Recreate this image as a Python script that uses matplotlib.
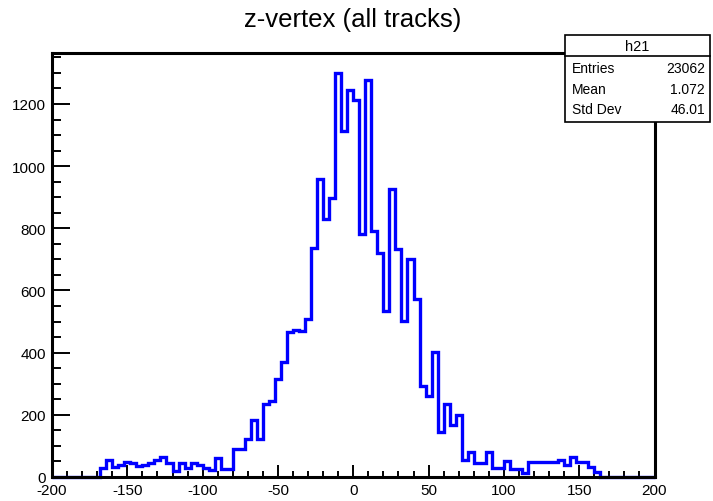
import matplotlib
matplotlib.use('Agg')
import matplotlib.pyplot as plt
import numpy as np
from matplotlib.patches import Rectangle
from matplotlib.lines import Line2D

plt.rcParams['font.family'] = ['Liberation Sans', 'DejaVu Sans']
plt.rcParams['axes.unicode_minus'] = False

# h21: z-vertex of all tracks, 100 bins from -200 to 200
z_lo, z_hi, n_bins = -200, 200, 100
counts = [
    0, 0, 0, 0, 0, 0, 0, 0,                      # -200 .. -172
    30, 55, 33, 38, 48, 45, 35, 38, 45, 55,      # -168 .. -132
    63, 46, 18, 46, 30, 44, 37, 30, 22, 62,      # -128 .. -92
    27, 27, 91, 91, 123, 182, 123, 235, 243, 315,  # -88 .. -52
    369, 465, 473, 470, 508, 738, 959, 829, 898, 1299,  # -48 .. -12
    1112, 1246, 1214, 781, 1278, 791, 722, 535, 925, 733,  # -8 .. 28
    503, 700, 572, 294, 262, 401, 144, 235, 168, 198,  # 32 .. 68
    55, 80, 45, 45, 80, 30, 30, 53, 27, 27,      # 72 .. 108
    12, 48, 48, 48, 48, 48, 56, 37, 64, 48,      # 112 .. 148
    48, 32, 16, 0, 0, 0, 0, 0, 0, 0,             # 152 .. 188
    0, 0,                                        # 192 .. 196
]
x_ticks = [-200, -150, -100, -50, 0, 50, 100, 150, 200]
y_ticks = [0, 200, 400, 600, 800, 1000, 1200]

hist_name = 'h21'
stat_names = ['Entries', 'Mean', 'Std Dev']
stat_values = ['23062', '1.072', '46.01']

edges = np.linspace(z_lo, z_hi, n_bins + 1)

W, H = 713, 502
fig = plt.figure(figsize=(W / 100, H / 100), dpi=100)
ax = fig.add_axes([52 / W, 1 - 478 / H, (654.5 - 52) / W, (478 - 54) / H])

ax.stairs(counts, edges, color='blue', lw=2.4, clip_on=False, zorder=2)

ax.set_xlim(z_lo, z_hi)
ax.set_ylim(0, 1.05 * max(counts))
ax.set_xticks(x_ticks)
ax.set_xticks(np.arange(z_lo, z_hi + 1, 10), minor=True)
ax.set_yticks(y_ticks)
ax.set_yticks(np.arange(0, 1.05 * max(counts), 50), minor=True)

for s in ax.spines.values():
    s.set_linewidth(2.2)
    s.set_zorder(3)

ax.tick_params(which='both', direction='in', top=False, right=False,
               width=1.4, labelsize=11, pad=4.5)
ax.tick_params(axis='x', which='major', length=8.6)
ax.tick_params(axis='x', which='minor', length=4.3)
ax.tick_params(axis='y', which='major', length=13)
ax.tick_params(axis='y', which='minor', length=6.5)

fig.text(353 / W, 1 - 20 / H, 'z-vertex (all tracks)', ha='center',
         va='center', fontsize=18.5)

# stats box
bx0, bx1, by0, by1 = 565, 710, 36, 123
fig.patches.append(Rectangle((bx0 / W, 1 - by1 / H), (bx1 - bx0) / W,
                             (by1 - by0) / H, transform=fig.transFigure,
                             facecolor='white', edgecolor='black', lw=1.2,
                             zorder=5))
fig.lines.append(Line2D([bx0 / W, bx1 / W], [1 - 57 / H, 1 - 57 / H],
                        transform=fig.transFigure, color='black', lw=1.2,
                        zorder=6))
fig.text((bx0 + bx1) / 2 / W, 1 - 47 / H, hist_name, ha='center',
         va='center', fontsize=10.5, zorder=7)
for i, (name, val) in enumerate(zip(stat_names, stat_values)):
    yy = 1 - (69 + 20.5 * i) / H
    fig.text(572 / W, yy, name, ha='left', va='center', fontsize=10, zorder=7)
    fig.text(705 / W, yy, val, ha='right', va='center', fontsize=10, zorder=7)

fig.savefig('out.png', dpi=100)
